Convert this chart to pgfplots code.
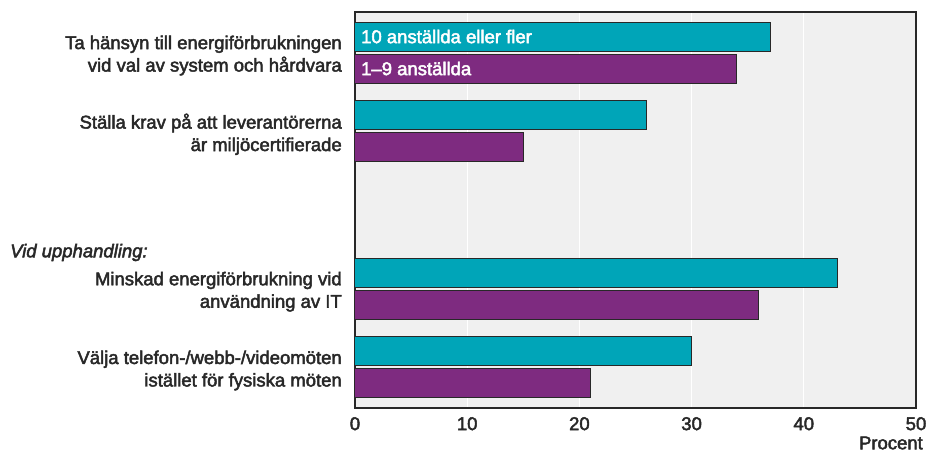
\documentclass[border=0pt]{standalone}
\usepackage{fontspec}
\setmainfont{Liberation Sans}
\newfontfamily\mf{Liberation Sans}[FakeBold=2.5]
\usepackage{pgfplots}
\pgfplotsset{compat=1.18}
\definecolor{teal1}{RGB}{0,165,184}
\definecolor{purp}{RGB}{126,43,128}
\definecolor{bg}{RGB}{240,240,240}
\definecolor{frame}{RGB}{40,40,40}
\newcommand\lf{\mf\fontsize{18.5}{22.5}\selectfont}
\begin{document}
\lf
\begin{tikzpicture}
\begin{axis}[
 scale only axis, width=561pt, height=396pt,
 xbar, xmin=0, xmax=50, ymin=-0.515, ymax=4.515,
 clip=false,
 axis background/.style={fill=bg},
 axis line style={frame, line width=1.5pt},
 xtick={0,10,...,50}, xmajorgrids, grid style={white, line width=1.2pt},
 major tick length=0pt,
 ytick={0,1,3,4},
 yticklabels={{Välja telefon-/webb-/videomöten\\istället för fysiska möten},
              {Minskad energiförbrukning vid\\användning av IT},
              {Ställa krav på att leverantörerna\\är miljöcertifierade},
              {Ta hänsyn till energiförbrukningen\\vid val av system och hårdvara}},
 yticklabel style={align=right, font=\lf, text=frame, inner sep=0pt, xshift=-13pt, yshift=-3pt},
 xticklabel style={font=\lf, text=frame, inner sep=0pt, yshift=-9pt},
 /pgf/number format/assume math mode=true,
 bar width=29pt,
]
\addplot[fill=teal1, draw=frame, line width=1pt, bar shift=16pt] coordinates {(37,4) (26,3) (43,1) (30,0)};
\addplot[fill=purp, draw=frame, line width=1pt, bar shift=-16pt] coordinates {(34,4) (15,3) (36,1) (21,0)};
\node[anchor=west, text=white, font=\lf, inner sep=0pt] at (axis cs:0,4) [yshift=16pt, xshift=6pt] {10 anställda eller fler};
\node[anchor=west, text=white, font=\lf, inner sep=0pt] at (axis cs:0,4) [yshift=-16pt, xshift=6pt] {1–9 anställda};
\node[anchor=west, text=frame, font=\lf\itshape, inner sep=0pt] at (axis cs:0,1.46) [xshift=-345pt] {Vid upphandling:};
\node[anchor=east, text=frame, font=\lf, inner sep=0pt] at (axis cs:50,-0.515) [xshift=7pt, yshift=-35pt] {Procent};
\end{axis}
\pgfresetboundingbox
\path (-355pt,-44pt) rectangle (572pt,408pt);
\end{tikzpicture}
\end{document}
